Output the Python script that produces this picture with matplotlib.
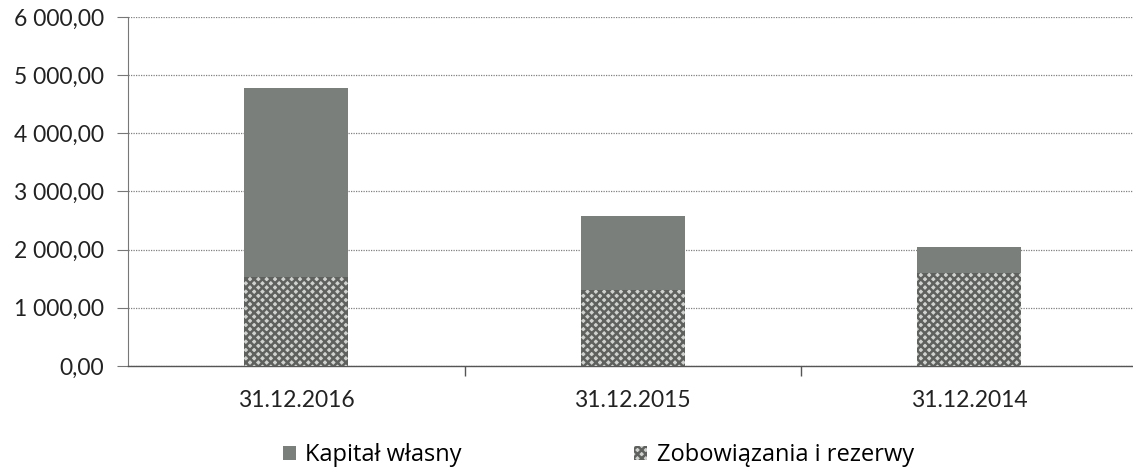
import numpy as np
import matplotlib.pyplot as plt
from matplotlib.ticker import FuncFormatter, FixedLocator

categories = ["31.12.2016", "31.12.2015", "31.12.2014"]
kapital = [3247, 1272, 445]
zobowiazania = [1530, 1305, 1600]
yticks = [0, 1000, 2000, 3000, 4000, 5000, 6000]


def pl_fmt(v, pos):
    s = "{:,.2f}".format(v)
    return s.replace(",", " ").replace(".", ",")


fig = plt.figure(figsize=(11.33, 4.73), dpi=100)
ax = fig.add_axes([128 / 1133, 1 - 366 / 473, 1 - 128 / 1133 + 0.004, (366 - 17) / 473])

x = np.arange(len(categories))
w = 0.31
plt.rcParams['hatch.linewidth'] = 1.8
b1 = ax.bar(x, zobowiazania, w, color="#d0d2d0", edgecolor="#5e615e", hatch="xxxx",
            linewidth=0, label="Zobowiązania i rezerwy", zorder=3)
b2 = ax.bar(x, kapital, w, bottom=zobowiazania, color="#7b7f7b", linewidth=0,
            label="Kapitał własny", zorder=3)

ax.set_ylim(0, 6000)
ax.set_xlim(-0.5, 2.5)
ax.set_yticks(yticks)
ax.yaxis.set_major_formatter(FuncFormatter(pl_fmt))
ax.set_xticks(x)
ax.set_xticklabels(categories)
ax.xaxis.set_minor_locator(FixedLocator([0.5, 1.5, 2.5]))
ax.tick_params(axis="x", which="major", length=0, pad=17, labelsize=16.5, labelcolor="#222222")
ax.tick_params(axis="x", which="minor", length=7, width=1, color="#555555", direction="out")
ax.tick_params(axis="y", length=8, width=0.8, color="#777777", pad=9, labelsize=16.5, labelcolor="#222222")
for lab in ax.get_xticklabels() + ax.get_yticklabels():
    lab.set_family(["Lato", "DejaVu Sans"])

ax.grid(axis="y", linestyle=(0, (1, 1)), color="#808080", linewidth=0.9, zorder=0)
ax.spines["top"].set_visible(False)
ax.spines["right"].set_visible(False)
ax.spines["left"].set_linestyle((0, (1, 1)))
ax.spines["left"].set_color("#777777")
ax.spines["bottom"].set_color("#555555")
ax.spines["bottom"].set_linewidth(1.0)

leg = fig.legend(handles=[b2, b1], loc="center", bbox_to_anchor=(0.528, 0.038), ncol=2,
                 frameon=False, handlelength=0.55, handleheight=0.55,
                 handletextpad=0.4, columnspacing=7.3,
                 prop={"family": ["Open Sans", "DejaVu Sans"], "size": 17})

fig.savefig("out.png", dpi=100)
